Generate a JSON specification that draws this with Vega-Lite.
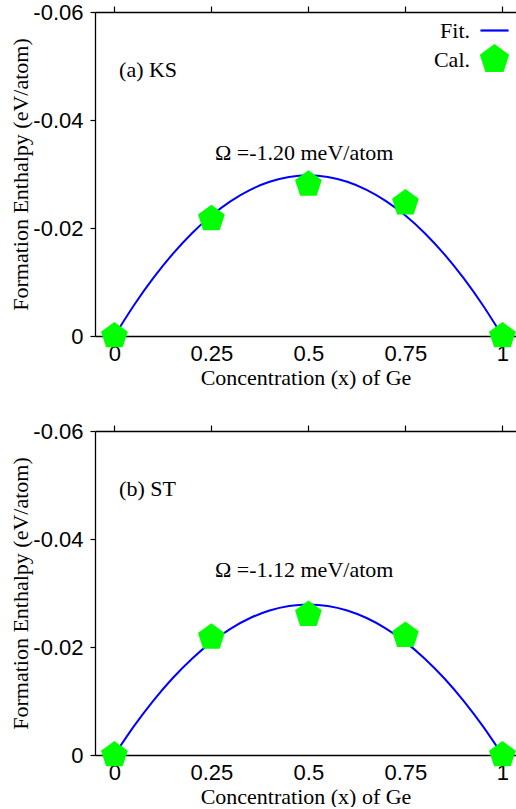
{
  "$schema": "https://vega.github.io/schema/vega-lite/v6.json",
  "padding": {"top": 1, "left": 9, "right": 0, "bottom": 0},
  "background": "white",
  "datasets": {
    "fitA": [
      {"x": 0, "y": 0}, {"x": 0.05, "y": -0.00565}, {"x": 0.1, "y": -0.01071}, {"x": 0.15, "y": -0.01517},
      {"x": 0.2, "y": -0.01904}, {"x": 0.25, "y": -0.02231}, {"x": 0.3, "y": -0.02499}, {"x": 0.35, "y": -0.02707},
      {"x": 0.4, "y": -0.02856}, {"x": 0.45, "y": -0.02945}, {"x": 0.5, "y": -0.02975}, {"x": 0.55, "y": -0.02945},
      {"x": 0.6, "y": -0.02856}, {"x": 0.65, "y": -0.02707}, {"x": 0.7, "y": -0.02499}, {"x": 0.75, "y": -0.02231},
      {"x": 0.8, "y": -0.01904}, {"x": 0.85, "y": -0.01517}, {"x": 0.9, "y": -0.01071}, {"x": 0.95, "y": -0.00565},
      {"x": 1, "y": 0}
    ],
    "calA": [
      {"x": 0, "y": 0}, {"x": 0.25, "y": -0.0217}, {"x": 0.5, "y": -0.0281}, {"x": 0.75, "y": -0.0246}, {"x": 1, "y": 0}
    ],
    "fitB": [
      {"x": 0, "y": 0}, {"x": 0.05, "y": -0.0053}, {"x": 0.1, "y": -0.01004}, {"x": 0.15, "y": -0.01422},
      {"x": 0.2, "y": -0.01784}, {"x": 0.25, "y": -0.02091}, {"x": 0.3, "y": -0.02342}, {"x": 0.35, "y": -0.02537},
      {"x": 0.4, "y": -0.02676}, {"x": 0.45, "y": -0.0276}, {"x": 0.5, "y": -0.02788}, {"x": 0.55, "y": -0.0276},
      {"x": 0.6, "y": -0.02676}, {"x": 0.65, "y": -0.02537}, {"x": 0.7, "y": -0.02342}, {"x": 0.75, "y": -0.02091},
      {"x": 0.8, "y": -0.01784}, {"x": 0.85, "y": -0.01422}, {"x": 0.9, "y": -0.01004}, {"x": 0.95, "y": -0.0053},
      {"x": 1, "y": 0}
    ],
    "calB": [
      {"x": 0, "y": 0}, {"x": 0.25, "y": -0.0218}, {"x": 0.5, "y": -0.026}, {"x": 0.75, "y": -0.0221}, {"x": 1, "y": 0}
    ],
    "labelA": [{"panel": "(a) KS", "omega": "Ω =-1.20 meV/atom"}],
    "labelB": [{"panel": "(b) ST", "omega": "Ω =-1.12 meV/atom"}]
  },
  "config": {
    "view": {"stroke": null},
    "axis": {
      "domainColor": "black", "domainWidth": 1.3, "tickColor": "black", "tickWidth": 1.2,
      "labelFont": "Liberation Sans", "labelFontSize": 22, "labelColor": "black",
      "titleFont": "Liberation Serif", "titleFontSize": 22, "titleFontWeight": "normal", "titleColor": "black",
      "grid": false
    },
    "legend": {
      "labelFont": "Liberation Serif", "labelFontSize": 22, "labelColor": "black"
    },
    "text": {"font": "Liberation Serif", "fontSize": 22, "color": "black"}
  },
  "spacing": 32,
  "vconcat": [
    {
      "width": 421, "height": 324,
      "resolve": {"axis": {"x": "independent"}},
      "layer": [
        {
          "data": {"name": "fitA"},
          "mark": {"type": "line", "strokeWidth": 2, "interpolate": "monotone"},
          "encoding": {
            "x": {"field": "x", "type": "quantitative",
                  "scale": {"domain": [-0.05, 1.035], "nice": false, "zero": false},
                  "axis": {"orient": "bottom", "values": [0, 0.25, 0.5, 0.75, 1], "ticks": false, "labelPadding": 7,
                           "labelExpr": "'' + datum.value", "title": "Concentration (x) of Ge", "titlePadding": 3}},
            "y": {"field": "y", "type": "quantitative",
                  "scale": {"domain": [-0.06, 0], "reverse": true, "nice": false, "zero": false},
                  "axis": {"orient": "left", "values": [-0.06, -0.04, -0.02, 0], "tickSize": 5, "labelPadding": 7,
                           "labelExpr": "datum.value == 0 ? '0' : replace(format(datum.value, '.2f'), '\u2212', '-')",
                           "title": "Formation Enthalpy (eV/atom)", "titlePadding": 0}},
            "color": {"datum": "Fit.",
                      "scale": {"domain": ["Fit.", "Cal."], "range": ["#0000ff", "#00ff00"]},
                      "legend": {"title": null, "orient": "top-right", "offset": 3, "labelAlign": "right", "labelOffset": -40,
                                 "rowPadding": -1, "symbolSize": 790,
                                 "encode": {"symbols": {"update": {
                                   "shape": {"signal": "datum.value == 'Fit.' ? 'stroke' : 'M0,-1L0.951,-0.309L0.588,0.809L-0.588,0.809L-0.951,-0.309Z'"},
                                   "fill": {"signal": "datum.value == 'Fit.' ? 'transparent' : '#00ff00'"},
                                   "stroke": {"signal": "datum.value == 'Fit.' ? '#0000ff' : 'transparent'"},
                                   "strokeWidth": {"value": 2.2},
                                   "opacity": {"value": 1},
                                   "size": {"value": 790}
                                 }}}}}
          }
        },
        {
          "data": {"name": "calA"},
          "mark": {"type": "point", "filled": true, "opacity": 1, "size": 790,
                   "shape": "M0,-1L0.951,-0.309L0.588,0.809L-0.588,0.809L-0.951,-0.309Z"},
          "encoding": {
            "x": {"field": "x", "type": "quantitative",
                  "axis": {"orient": "top", "values": [0, 0.25, 0.5, 0.75, 1], "labels": false, "tickSize": 6, "title": null}},
            "y": {"field": "y", "type": "quantitative"},
            "color": {"datum": "Cal."}
          }
        },
        {
          "data": {"name": "labelA"},
          "mark": {"type": "text", "align": "left", "baseline": "alphabetic"},
          "encoding": {
            "x": {"datum": 0.012, "type": "quantitative", "axis": null},
            "y": {"datum": -0.048, "type": "quantitative"},
            "text": {"field": "panel"}
          }
        },
        {
          "data": {"name": "labelA"},
          "mark": {"type": "text", "align": "center", "baseline": "alphabetic"},
          "encoding": {
            "x": {"datum": 0.489, "type": "quantitative", "axis": null},
            "y": {"datum": -0.0326, "type": "quantitative"},
            "text": {"field": "omega"}
          }
        }
      ]
    },
    {
      "width": 421, "height": 324,
      "resolve": {"axis": {"x": "independent"}},
      "layer": [
        {
          "data": {"name": "fitB"},
          "mark": {"type": "line", "strokeWidth": 2, "interpolate": "monotone"},
          "encoding": {
            "x": {"field": "x", "type": "quantitative",
                  "scale": {"domain": [-0.05, 1.035], "nice": false, "zero": false},
                  "axis": {"orient": "bottom", "values": [0, 0.25, 0.5, 0.75, 1], "ticks": false, "labelPadding": 7,
                           "labelExpr": "'' + datum.value", "title": "Concentration (x) of Ge", "titlePadding": 3}},
            "y": {"field": "y", "type": "quantitative",
                  "scale": {"domain": [-0.06, 0], "reverse": true, "nice": false, "zero": false},
                  "axis": {"orient": "left", "values": [-0.06, -0.04, -0.02, 0], "tickSize": 5, "labelPadding": 7,
                           "labelExpr": "datum.value == 0 ? '0' : replace(format(datum.value, '.2f'), '\u2212', '-')",
                           "title": "Formation Enthalpy (eV/atom)", "titlePadding": 0}},
            "color": {"datum": "Fit.",
                      "scale": {"domain": ["Fit.", "Cal."], "range": ["#0000ff", "#00ff00"]},
                      "legend": {"title": null, "orient": "top-right", "offset": 3, "labelAlign": "right", "labelOffset": -40,
                                 "rowPadding": -1, "symbolSize": 790,
                                 "encode": {"symbols": {"update": {
                                   "shape": {"signal": "datum.value == 'Fit.' ? 'stroke' : 'M0,-1L0.951,-0.309L0.588,0.809L-0.588,0.809L-0.951,-0.309Z'"},
                                   "fill": {"signal": "datum.value == 'Fit.' ? 'transparent' : '#00ff00'"},
                                   "stroke": {"signal": "datum.value == 'Fit.' ? '#0000ff' : 'transparent'"},
                                   "strokeWidth": {"value": 2.2},
                                   "opacity": {"value": 1},
                                   "size": {"value": 790}
                                 }}}}}
          }
        },
        {
          "data": {"name": "calB"},
          "mark": {"type": "point", "filled": true, "opacity": 1, "size": 790,
                   "shape": "M0,-1L0.951,-0.309L0.588,0.809L-0.588,0.809L-0.951,-0.309Z"},
          "encoding": {
            "x": {"field": "x", "type": "quantitative",
                  "axis": {"orient": "top", "values": [0, 0.25, 0.5, 0.75, 1], "labels": false, "tickSize": 6, "title": null}},
            "y": {"field": "y", "type": "quantitative"},
            "color": {"datum": "Cal."}
          }
        },
        {
          "data": {"name": "labelB"},
          "mark": {"type": "text", "align": "left", "baseline": "alphabetic"},
          "encoding": {
            "x": {"datum": 0.012, "type": "quantitative", "axis": null},
            "y": {"datum": -0.048, "type": "quantitative"},
            "text": {"field": "panel"}
          }
        },
        {
          "data": {"name": "labelB"},
          "mark": {"type": "text", "align": "center", "baseline": "alphabetic"},
          "encoding": {
            "x": {"datum": 0.489, "type": "quantitative", "axis": null},
            "y": {"datum": -0.0329, "type": "quantitative"},
            "text": {"field": "omega"}
          }
        }
      ]
    }
  ]
}
